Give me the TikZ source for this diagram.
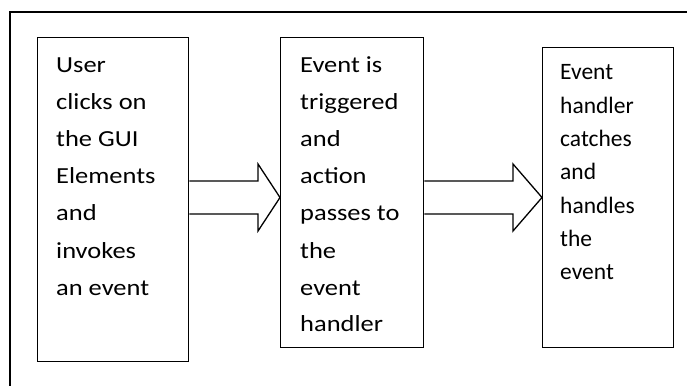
\documentclass[tikz,border=0pt]{standalone}
\usepackage{fontspec}
\setmainfont{Carlito}
\newfontfamily\widefont[FakeStretch=1.15]{Carlito}
\begin{document}
\begin{tikzpicture}[x=1pt,y=-1pt,
  frame/.style={line width=2pt},
  boxstyle/.style={draw, line width=1.3pt, fill=white},
  blockarrow/.style={draw, line width=1.3pt, fill=white, line join=miter},
  txt/.style={anchor=base west, inner sep=0pt}
]
\useasboundingbox (0,0) rectangle (687,385);
\fill[white] (0,0) rectangle (687,385);
% outer frame (right and bottom sides cut off)
\draw[frame] (10,386) -- (10,12) -- (688,12);

% boxes
\node[boxstyle, inner sep=0pt, minimum width=151pt, minimum height=324pt, anchor=north west] (b1) at (37,37) {};
\node[boxstyle, inner sep=0pt, minimum width=143pt, minimum height=310pt, anchor=north west] (b2) at (280,37) {};
\node[boxstyle, inner sep=0pt, minimum width=131pt, minimum height=300pt, anchor=north west] (b3) at (542,47) {};

% texts
\node[txt] (t1) at (56,73) {\parbox[t]{130pt}{\widefont\fontsize{23pt}{37pt}\selectfont
User\\clicks on\\the GUI\\Elements\\and\\invokes\\an event}};
\node[txt] (t2) at (300,73) {\parbox[t]{120pt}{\widefont\fontsize{23pt}{37pt}\selectfont
Event is\\triggered\\and\\action\\passes to\\the\\event\\handler}};
\node[txt] (t3) at (560,80) {\parbox[t]{110pt}{\fontsize{23.5pt}{33.3pt}\selectfont
Event\\handler\\catches\\and\\handles\\the\\event}};

% arrow levels
\coordinate (st) at (0,181);
\coordinate (sb) at (0,214);
\coordinate (ht) at (0,164);
\coordinate (hb) at (0,231);
\coordinate (tipy) at (0,197.5);
\coordinate (h1) at (258,0);
\coordinate (h2) at (513,0);

% block arrow 1
\draw[blockarrow] (b1.east |- st) -- (h1 |- st) -- (h1 |- ht) -- (b2.west |- tipy)
  -- (h1 |- hb) -- (h1 |- sb) -- (b1.east |- sb);
% block arrow 2
\draw[blockarrow] (b2.east |- st) -- (h2 |- st) -- (h2 |- ht) -- (b3.west |- tipy)
  -- (h2 |- hb) -- (h2 |- sb) -- (b2.east |- sb);
\end{tikzpicture}
\end{document}
